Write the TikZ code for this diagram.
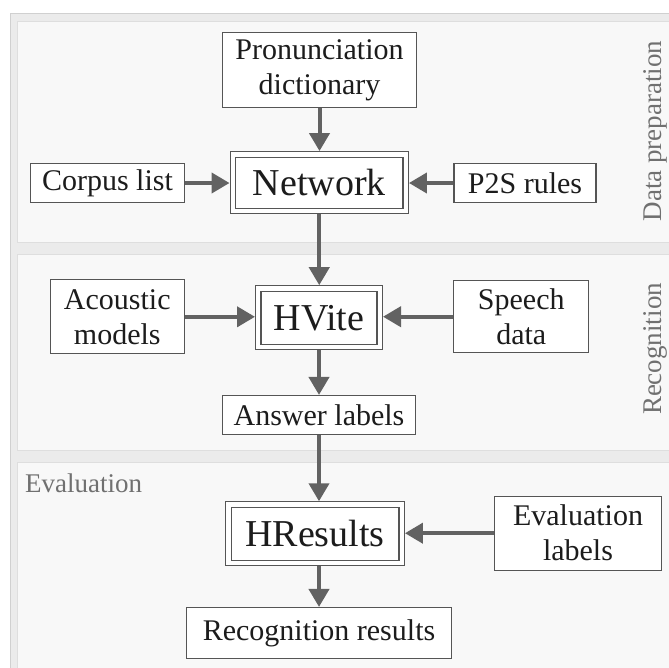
\documentclass[tikz,border=0pt]{standalone}
\usepackage{fontspec}
\setmainfont{Liberation Serif}
\usetikzlibrary{arrows.meta,calc}

\definecolor{framebg}{HTML}{EBEBEB}
\definecolor{frameline}{HTML}{D0D0D0}
\definecolor{panelbg}{HTML}{F8F8F8}
\definecolor{panelline}{HTML}{DEDEDE}
\definecolor{boxline}{HTML}{555555}
\definecolor{arrowc}{HTML}{626262}
\definecolor{txt}{HTML}{1C1C1C}
\definecolor{tagc}{HTML}{707070}

\begin{document}
\begin{tikzpicture}[x=1pt,y=-1pt,
  box/.style={draw=boxline, line width=1.1pt, fill=white, inner sep=0pt,
    align=center, text=txt, font=\fontsize{30}{35}\selectfont},
  dbox/.style={box, double=white, double distance=4.3pt, outer sep=3.3pt,
    font=\fontsize{38}{44}\selectfont},
  arr/.style={draw=arrowc, line width=4pt, -{Triangle[length=18pt,width=20pt]}},
  panel/.style={draw=panelline, fill=panelbg, line width=1pt},
  tag/.style={text=tagc, inner sep=0pt, font=\fontsize{27}{31}\selectfont}]

\useasboundingbox (0,0) rectangle (669,667);
\clip (0,0) rectangle (669,667);
\fill[white] (0,0) rectangle (669,667);

% outer frame and the three stage panels
\draw[draw=frameline, fill=framebg, line width=1pt] (10.5,13.3) rectangle (700,700);
\draw[panel] (17,21.7) rectangle (700,242.3);
\draw[panel] (17,254) rectangle (700,450);
\draw[panel] (17,462.7) rectangle (700,700);

% stage labels
\node[tag, rotate=90, anchor=base] (tprep) at (661,131) {Data preparation};
\node[tag, rotate=90, anchor=base] (trec) at (661,349) {Recognition};
\node[tag, anchor=base west] (teval) at (25,492.7) {Evaluation};

% data preparation
\node[box, minimum width=194pt, minimum height=75pt] (dict) at (319.5,70) {Pronunciation\\dictionary};
\node[dbox, minimum width=172.8pt, minimum height=56.6pt] (net) at (319.25,182.7) {Network};
\node[box, minimum width=154pt, minimum height=39pt] (corpus) at (107.5,183) {Corpus list};
\node[box, minimum width=142pt, minimum height=39pt] (p2s) at (525,183) {P2S rules};

% recognition
\node[dbox, minimum width=121.4pt, minimum height=58.6pt] (hvite) at (319,317.8) {HVite};
\node[box, minimum width=134pt, minimum height=74pt] (acou) at (117.3,316.8) {Acoustic\\models};
\node[box, minimum width=135pt, minimum height=72pt] (speech) at (521.3,316.7) {Speech\\data};
\node[box, minimum width=193pt, minimum height=39pt] (ans) at (319,415) {Answer labels};

% evaluation
\node[dbox, minimum width=173.3pt, minimum height=58.5pt] (hres) at (315,533.8) {HResults};
\node[box, minimum width=167pt, minimum height=74pt] (evl) at (578,533.2) {Evaluation\\labels};
\node[box, minimum width=265pt, minimum height=51pt] (rec) at (319,633) {Recognition results};

% connectors
\draw[arr] (dict.south) -- (dict.south |- net.north);
\draw[arr] (corpus.east) -- (corpus.east -| net.west);
\draw[arr] (p2s.west) -- (p2s.west -| net.east);
\draw[arr] (net.south) -- (net.south |- hvite.north);
\draw[arr] (acou.east) -- (acou.east -| hvite.west);
\draw[arr] (speech.west) -- (speech.west -| hvite.east);
\draw[arr] (hvite.south) -- (hvite.south |- ans.north);
\draw[arr] (ans.south) -- (ans.south |- hres.north);
\draw[arr] (evl.west) -- (evl.west -| hres.east);
\draw[arr] (rec.north |- hres.south) -- (rec.north);
\end{tikzpicture}
\end{document}
